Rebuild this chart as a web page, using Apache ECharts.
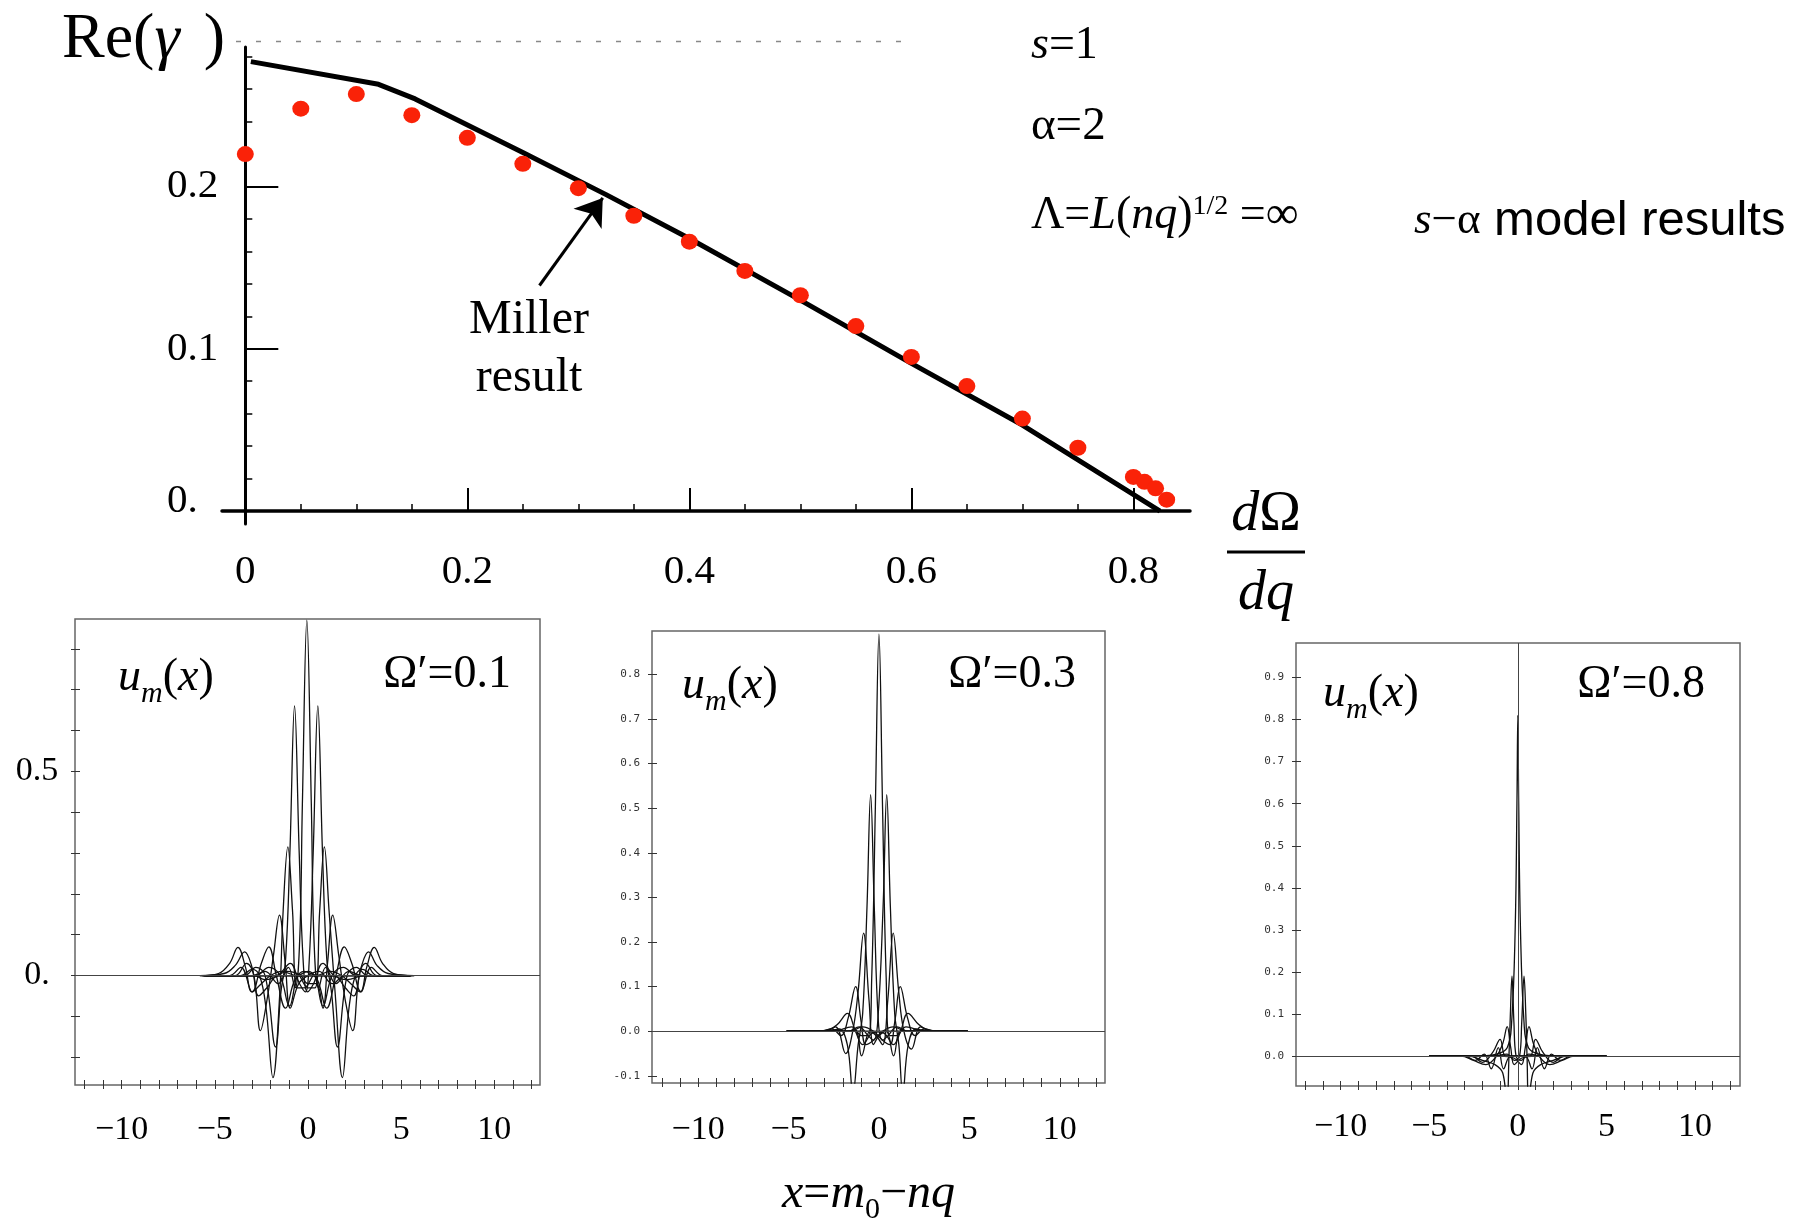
<!DOCTYPE html>
<html>
<head>
<meta charset="utf-8">
<script src="https://cdn.jsdelivr.net/npm/echarts@6/dist/echarts.min.js"></script>
<style>
  html, body { margin: 0; padding: 0; background: #fff; }
  #main { width: 1807px; height: 1223px; }
</style>
</head>
<body>
<div id="main"></div>
<script>
// ---- top plot: Re(gamma) vs dOmega/dq ----
var gammaX = [0, 0.05, 0.1, 0.15, 0.2, 0.25, 0.3, 0.35, 0.4, 0.45, 0.5, 0.55, 0.6, 0.65, 0.7, 0.75, 0.8, 0.81, 0.82, 0.83];
var gammaY = [0.220, 0.248, 0.257, 0.244, 0.230, 0.214, 0.199, 0.182, 0.166, 0.148, 0.133, 0.114, 0.095, 0.077, 0.057, 0.039, 0.021, 0.018, 0.014, 0.007];

var millerX = [0.005, 0.12, 0.153, 0.25, 0.325, 0.4, 0.5, 0.6, 0.7, 0.824];
var millerY = [0.277, 0.263, 0.254, 0.221, 0.195, 0.168, 0.130, 0.091, 0.053, 0.0];

var arrowFrom = [0.265, 0.139];
var arrowTo = [0.322, 0.193];

var topXTicks = [0, 0.2, 0.4, 0.6, 0.8];
var topXMinor = [0.05, 0.1, 0.15, 0.25, 0.3, 0.35, 0.45, 0.5, 0.55, 0.65, 0.7, 0.75];
var topYTicks = [0, 0.1, 0.2];
var topYMinor = [0.02, 0.04, 0.06, 0.08, 0.12, 0.14, 0.16, 0.18, 0.22, 0.24, 0.26, 0.28];

// ---- bottom panels: u_m(x) ----
var panelXTickVals = [-12, -11, -10, -9, -8, -7, -6, -5, -4, -3, -2, -1, 0, 1, 2, 3, 4, 5, 6, 7, 8, 9, 10, 11, 12];
var panelXLabels = [-10, -5, 0, 5, 10];

var omega01Curves = [
  [[-5.6,0],[-3.0,0],[-2.3,0.01],[-1.6,-0.02],[-1.05,0.02],[-0.7,-0.03],[-0.45,0.08],[-0.3,0.42],[-0.06,0.87],[0.18,0.42],[0.33,0.08],[0.58,-0.03],[0.95,0.02],[1.5,-0.02],[2.2,0.01],[2.9,0],[5.5,0]],
  [[-5.6,0],[-3.4,0],[-2.8,0.02],[-2.3,0],[-1.74,-0.175],[-1.45,-0.04],[-1.2,0.04],[-0.97,0.3],[-0.72,0.66],[-0.47,0.3],[-0.25,0.03],[-0.02,-0.04],[0.3,-0.02],[0.8,0.03],[1.4,0],[2.1,-0.01],[3.0,0],[5.5,0]],
  [[-5.6,0],[-2.9,0],[-2.3,-0.01],[-1.6,0],[-0.95,0.03],[-0.45,-0.02],[-0.14,-0.04],[0.06,0.03],[0.28,0.3],[0.53,0.66],[0.78,0.3],[1.01,0.04],[1.26,-0.04],[1.58,-0.175],[2.1,0],[2.6,0.02],[3.2,0],[5.5,0]],
  [[-5.6,0],[-3.6,0],[-3.0,0.015],[-2.6,0],[-2.25,-0.08],[-1.88,-0.25],[-1.52,-0.05],[-1.33,0.16],[-1.08,0.315],[-0.83,0.16],[-0.58,-0.03],[-0.2,-0.03],[0.3,0],[0.8,-0.075],[1.3,0],[1.9,0.02],[2.6,0],[5.5,0]],
  [[-5.6,0],[-2.8,0],[-2.1,0.02],[-1.5,0],[-0.99,-0.075],[-0.49,0],[0.01,-0.03],[0.38,-0.03],[0.63,0.16],[0.88,0.315],[1.13,0.16],[1.47,-0.05],[1.85,-0.25],[2.2,-0.08],[2.55,0],[2.95,0.015],[3.5,0],[5.5,0]],
  [[-5.7,0],[-3.9,0],[-3.3,0.03],[-2.9,0],[-2.55,-0.135],[-2.2,-0.06],[-1.85,0.05],[-1.53,0.148],[-1.22,0.03],[-0.95,-0.08],[-0.5,-0.02],[0,0],[0.6,0.01],[1.3,-0.02],[2.0,0],[5.5,0]],
  [[-5.5,0],[-1.8,0],[-1.1,0.01],[-0.4,0],[0,-0.02],[0.45,-0.02],[0.8,-0.08],[1.05,0.03],[1.33,0.148],[1.65,0.05],[2.0,-0.06],[2.4,-0.135],[2.75,0],[3.1,0.03],[3.7,0],[5.5,0]],
  [[-5.7,0],[-4.2,0],[-3.6,0.02],[-3.0,-0.04],[-2.5,0.03],[-2.1,0.07],[-1.7,0],[-1.2,-0.08],[-0.7,-0.01],[-0.2,0.01],[0.5,0],[5.5,0]],
  [[-5.5,0],[-0.6,0],[0,0.01],[0.5,-0.01],[1.0,-0.08],[1.5,0],[1.95,0.07],[2.35,0.03],[2.85,-0.04],[3.4,0.02],[4.0,0],[5.6,0]],
  [[-5.8,0],[-4.8,0.005],[-4.2,0.03],[-3.76,0.069],[-3.35,0.02],[-3.0,-0.04],[-2.5,-0.02],[-2.0,0],[-1.4,0.01],[-0.6,0],[5.5,0]],
  [[-5.5,0],[0.4,0],[1.2,0.01],[1.8,0],[2.3,-0.02],[2.8,-0.04],[3.15,0.02],[3.56,0.069],[4.0,0.03],[4.6,0.005],[5.7,0]],
  [[-5.8,0],[-4.5,0.005],[-3.9,0.025],[-3.4,0.058],[-3.0,0.02],[-2.65,-0.05],[-2.2,-0.03],[-1.6,0],[-0.8,0],[5.5,0]],
  [[-5.5,0],[0.6,0],[1.4,0],[2.0,-0.03],[2.45,-0.05],[2.85,0.02],[3.25,0.058],[3.7,0.025],[4.3,0.005],[5.7,0]]
];

var omega03Curves = [
  [[-5.1,0],[-2.5,0],[-1.5,0.01],[-0.95,-0.01],[-0.6,-0.01],[-0.4,0.12],[-0.2,0.5],[0,0.89],[0.2,0.5],[0.4,0.12],[0.6,-0.01],[0.95,-0.01],[1.5,0.01],[2.5,0],[4.9,0]],
  [[-5.1,0],[-2.8,0],[-2.2,0.005],[-1.75,-0.03],[-1.44,-0.14],[-1.15,-0.03],[-0.9,0.04],[-0.66,0.28],[-0.46,0.53],[-0.26,0.28],[-0.03,0.02],[0.2,-0.02],[0.5,-0.01],[1.0,0.01],[1.6,0],[4.9,0]],
  [[-5.1,0],[-1.7,0],[-1.1,0.01],[-0.6,-0.01],[-0.3,-0.02],[-0.07,0.02],[0.23,0.28],[0.43,0.53],[0.63,0.28],[0.87,0.04],[1.1,-0.03],[1.32,-0.14],[1.62,-0.03],[2.05,0.005],[2.7,0],[4.9,0]],
  [[-5.1,0],[-3.0,0],[-2.4,0.01],[-1.84,-0.05],[-1.45,0],[-1.15,0.09],[-0.85,0.22],[-0.55,0.07],[-0.3,-0.03],[0,-0.01],[0.4,0],[0.81,-0.055],[1.2,0],[1.8,0],[4.9,0]],
  [[-5.1,0],[-1.9,0],[-1.3,0],[-0.96,-0.055],[-0.5,0],[-0.15,-0.01],[0.2,-0.03],[0.49,0.07],[0.79,0.22],[1.09,0.09],[1.38,0],[1.8,-0.04],[2.3,0.01],[2.9,0],[4.9,0]],
  [[-5.1,0],[-3.3,0],[-2.6,0.005],[-2.1,-0.01],[-1.7,0.03],[-1.29,0.1],[-0.98,0.02],[-0.72,-0.03],[-0.3,-0.02],[0.2,0],[0.8,0.01],[1.5,0],[4.9,0]],
  [[-5.1,0],[-1.6,0],[-0.9,0.01],[-0.3,0],[0.2,-0.02],[0.6,-0.03],[0.87,0.02],[1.18,0.1],[1.58,0.03],[2.0,-0.01],[2.5,0.005],[3.2,0],[4.9,0]],
  [[-5.1,0],[-3.4,0],[-2.7,0.005],[-2.3,0.015],[-1.74,0.04],[-1.3,0],[-0.9,-0.03],[-0.4,-0.005],[0.2,0],[4.9,0]],
  [[-5.1,0],[-0.3,0],[0.3,-0.005],[0.8,-0.03],[1.2,0],[1.6,0.04],[2.2,0.015],[2.6,0.005],[3.3,0],[4.9,0]]
];

var omega08Curves = [
  [[-5.0,0],[-2.5,0],[-1.2,0.005],[-0.6,0.02],[-0.35,0.08],[-0.15,0.3],[-0.05,0.6],[0,0.81],[0.05,0.6],[0.15,0.3],[0.35,0.08],[0.6,0.02],[1.2,0.005],[2.5,0],[5.0,0]],
  [[-5.0,0],[-2.8,0],[-2.0,-0.01],[-1.3,-0.02],[-0.85,-0.04],[-0.62,-0.12],[-0.5,0],[-0.42,0.1],[-0.33,0.19],[-0.22,0.08],[-0.1,0],[0.2,-0.01],[0.6,0.005],[1.5,0],[5.0,0]],
  [[-5.0,0],[-1.5,0],[-0.6,0.005],[-0.2,-0.01],[0.1,0],[0.22,0.08],[0.35,0.19],[0.45,0.1],[0.52,0],[0.62,-0.12],[0.85,-0.04],[1.3,-0.02],[2.0,-0.01],[2.8,0],[5.0,0]],
  [[-5.0,0],[-3.2,0],[-2.5,-0.01],[-1.8,-0.02],[-1.2,0],[-0.85,0.03],[-0.6,0.07],[-0.4,0.02],[-0.2,-0.02],[0.2,-0.005],[1.0,0],[5.0,0]],
  [[-5.0,0],[-1.0,0],[-0.2,-0.005],[0.2,-0.02],[0.42,0.02],[0.63,0.07],[0.88,0.03],[1.2,0],[1.8,-0.02],[2.5,-0.01],[3.2,0],[5.0,0]],
  [[-5.0,0],[-3.0,0],[-2.4,-0.01],[-1.9,0.005],[-1.5,-0.03],[-1.1,0.02],[-0.8,-0.03],[-0.4,0],[0.5,0],[5.0,0]],
  [[-5.0,0],[-0.5,0],[0.4,0],[0.8,-0.03],[1.1,0.02],[1.5,-0.03],[1.9,0.005],[2.4,-0.01],[3.0,0],[5.0,0]],
  [[-5.0,0],[-2.6,0],[-2.0,-0.015],[-1.4,0.01],[-1.0,0.04],[-0.7,0],[-0.3,0],[0.4,0],[5.0,0]],
  [[-5.0,0],[-0.4,0],[0.3,0],[0.7,0],[1.0,0.04],[1.4,0.01],[2.0,-0.015],[2.6,0],[5.0,0]]
];

var SERIF = "'Liberation Serif', 'Times New Roman', serif";
var SANS = "'Liberation Sans', Arial, sans-serif";

var panels = [
  { grid: { left: 75, top: 619, width: 465, height: 466 }, xMin: -12.5, xMax: 12.45, yMin: -0.268, yMax: 0.873,
    yTicks: [-0.2, -0.1, 0, 0.1, 0.2, 0.3, 0.4, 0.5, 0.6, 0.7, 0.8], yLabels: [0, 0.5], xLabelMargin: 28,
    curves: omega01Curves, zeroV: false },
  { grid: { left: 652, top: 631, width: 453, height: 452 }, xMin: -12.55, xMax: 12.5, yMin: -0.116, yMax: 0.897,
    yTicks: [-0.1, 0, 0.1, 0.2, 0.3, 0.4, 0.5, 0.6, 0.7, 0.8], yLabels: [-0.1, 0, 0.1, 0.2, 0.3, 0.4, 0.5, 0.6, 0.7, 0.8], xLabelMargin: 30,
    curves: omega03Curves, zeroV: false },
  { grid: { left: 1296, top: 643, width: 444, height: 443 }, xMin: -12.52, xMax: 12.54, yMin: -0.071, yMax: 0.982,
    yTicks: [0, 0.1, 0.2, 0.3, 0.4, 0.5, 0.6, 0.7, 0.8, 0.9], yLabels: [0, 0.1, 0.2, 0.3, 0.4, 0.5, 0.6, 0.7, 0.8, 0.9], xLabelMargin: 24,
    curves: omega08Curves, zeroV: true }
];

var grids = [{ left: 222, top: 47, width: 968, height: 477, outerBoundsMode: 'none', containLabel: false }];
var xAxes = [
  { gridIndex: 0, type: 'value', min: -0.021, max: 0.851, position: 'bottom',
    axisLine: { onZero: true, lineStyle: { color: '#000', width: 3.5 } },
    axisTick: { customValues: [0.2, 0.4, 0.6, 0.8], inside: true, length: 23, lineStyle: { color: '#000', width: 2 } },
    axisLabel: { customValues: topXTicks, margin: 28, fontFamily: SERIF, fontSize: 41, color: '#000',
      formatter: function (v) { return v === 0 ? '0' : v.toFixed(1); } },
    splitLine: { show: false } },
  { gridIndex: 0, type: 'value', min: -0.021, max: 0.851, position: 'bottom',
    axisLine: { show: true, onZero: true, lineStyle: { opacity: 0 } },
    axisTick: { customValues: topXMinor, inside: true, length: 7, lineStyle: { color: '#000', width: 1.5 } },
    axisLabel: { show: false }, splitLine: { show: false } }
];
var yAxes = [
  { gridIndex: 0, type: 'value', min: -0.008, max: 0.286, position: 'left',
    axisLine: { onZero: true, lineStyle: { color: '#000', width: 3 } },
    axisTick: { customValues: [0.1, 0.2], inside: true, length: 33, lineStyle: { color: '#000', width: 2 } },
    axisLabel: { customValues: topYTicks, align: 'left', margin: 55, fontFamily: SERIF, fontSize: 41, color: '#000',
      formatter: function (v) { return v === 0 ? '{z|0.}' : v.toFixed(1); },
      rich: { z: { fontFamily: SERIF, fontSize: 41, color: '#000', padding: [0, 0, 20, 0] } } },
    splitLine: { show: false } },
  { gridIndex: 0, type: 'value', min: -0.008, max: 0.286, position: 'left',
    axisLine: { show: true, onZero: true, lineStyle: { opacity: 0 } },
    axisTick: { customValues: topYMinor, inside: true, length: 7, lineStyle: { color: '#000', width: 1.5 } },
    axisLabel: { show: false }, splitLine: { show: false } }
];

var series = [
  { type: 'line', xAxisIndex: 0, yAxisIndex: 0, data: millerX.map(function (x, i) { return [x, millerY[i]]; }),
    showSymbol: false, symbol: 'none', lineStyle: { color: '#000', width: 5 }, z: 3, silent: true,
    markLine: { silent: true, symbol: ['none', 'arrow'], symbolSize: 26, label: { show: false },
      lineStyle: { color: '#000', width: 3, type: 'solid' },
      data: [[{ coord: arrowFrom }, { coord: arrowTo }]] } },
  { type: 'scatter', xAxisIndex: 0, yAxisIndex: 0, data: gammaX.map(function (x, i) { return [x, gammaY[i]]; }),
    symbol: 'circle', symbolSize: [17, 16], itemStyle: { color: '#fa2208', opacity: 1 }, z: 4, silent: true }
];

panels.forEach(function (p, k) {
  var gi = k + 1;
  var ai = 2 + 2 * k;
  grids.push(Object.assign({ show: true, borderColor: '#666', borderWidth: 1.5, backgroundColor: 'transparent',
    outerBoundsMode: 'none', containLabel: false }, p.grid));
  var isFirst = k === 0;
  xAxes.push({ gridIndex: gi, type: 'value', min: p.xMin, max: p.xMax, position: 'bottom',
    axisLine: { show: false, onZero: false },
    axisTick: { customValues: panelXTickVals, inside: true, length: 5, lineStyle: { color: '#333', width: 1 } },
    axisLabel: { customValues: panelXLabels, margin: p.xLabelMargin, fontFamily: SERIF, fontSize: 34, color: '#000',
      formatter: function (v) { return String(v).replace('-', '\u2212'); } },
    splitLine: { show: false } });
  xAxes.push({ gridIndex: gi, type: 'value', min: p.xMin, max: p.xMax, position: 'bottom',
    axisLine: { show: false, onZero: false },
    axisTick: { customValues: panelXTickVals, inside: false, length: 4, lineStyle: { color: '#333', width: 1 } },
    axisLabel: { show: false }, splitLine: { show: false } });
  yAxes.push({ gridIndex: gi, type: 'value', min: p.yMin, max: p.yMax, position: 'left',
    axisLine: { show: false, onZero: false },
    axisTick: { customValues: p.yTicks, inside: true, length: 5, lineStyle: { color: '#333', width: 1 } },
    axisLabel: isFirst
      ? { customValues: p.yLabels, align: 'center', margin: 38, fontFamily: SERIF, fontSize: 34, color: '#000',
          formatter: function (v) { return v === 0 ? '0.' : String(v); } }
      : { customValues: p.yLabels, margin: 12, fontFamily: "'DejaVu Sans Mono', monospace", fontSize: 11, color: '#333',
          formatter: function (v) { return v.toFixed(1); } },
    splitLine: { show: false } });
  yAxes.push({ gridIndex: gi, type: 'value', min: p.yMin, max: p.yMax, position: 'left',
    axisLine: { show: false, onZero: false },
    axisTick: { customValues: p.yTicks, inside: false, length: 4, lineStyle: { color: '#333', width: 1 } },
    axisLabel: { show: false }, splitLine: { show: false } });

  var guide = [{ yAxis: 0 }];
  if (p.zeroV) guide.push({ xAxis: 0 });
  p.curves.forEach(function (pts, i) {
    var s = { type: 'line', xAxisIndex: ai, yAxisIndex: ai, data: pts, smooth: 0.4, showSymbol: false, symbol: 'none',
      clip: true, silent: true, lineStyle: { color: '#111', width: 1.3 }, z: 3 };
    if (i === 0) {
      s.markLine = { silent: true, symbol: 'none', label: { show: false }, animation: false,
        lineStyle: { color: '#444', width: 1, type: 'solid' }, data: guide };
    }
    series.push(s);
  });
});

function label(x, y, text, rich, align) {
  return { type: 'text', x: x, y: y, silent: true,
    style: { text: text, rich: rich, fill: '#000', align: align || 'left', verticalAlign: 'middle',
      textAlign: align || 'left', textVerticalAlign: 'middle' } };
}
function tok(size, italic, family, extra) {
  return Object.assign({ fontSize: size, fontStyle: italic ? 'italic' : 'normal', fontFamily: family || SERIF, color: '#000' }, extra || {});
}
var umRich = { i: tok(46, true, null, { lineHeight: 62 }), n: tok(46, false, null, { lineHeight: 62 }),
  sub: tok(30, true, null, { lineHeight: 30, verticalAlign: 'bottom' }) };
var omRich = { n: tok(46, false) };

var graphics = [
  { type: 'line', silent: true, shape: { x1: 236, y1: 41.5, x2: 904, y2: 41.5 },
    style: { stroke: '#888', lineWidth: 1.5, lineDash: [5, 15] } },
  label(62, 40, '{n|Re(}{i|\u03b3}{p|)}', { n: tok(64, false), i: tok(64, true), p: tok(64, false, null, { padding: [0, 0, 0, 24] }) }),
  label(1031, 46, '{i|s}{n|=1}', { n: tok(46, false), i: tok(46, true) }),
  label(1031, 127, '{n|\u03b1=2}', { n: tok(47, false) }),
  label(1031, 216, '{n|\u039b=}{i|L}{n|(}{i|nq}{n|)}{sup|1/2}{n| =\u221e}',
    { n: tok(46, false, null, { lineHeight: 46 }), i: tok(46, true, null, { lineHeight: 46 }),
      sup: tok(28, false, null, { lineHeight: 28, verticalAlign: 'top' }) }),
  label(1414, 221, '{i|s}{n|\u2212\u03b1}{s| model results}', { n: tok(45, false), i: tok(45, true), s: tok(49, false, SANS) }),
  label(529, 320, '{n|Miller}', { n: tok(48, false) }, 'center'),
  label(529, 378, '{n|result}', { n: tok(48, false) }, 'center'),
  label(1266, 515, '{i|d}{n|\u03a9}', { n: tok(56, false), i: tok(56, true) }, 'center'),
  { type: 'line', silent: true, shape: { x1: 1227, y1: 552, x2: 1305, y2: 552 }, style: { stroke: '#000', lineWidth: 3 } },
  label(1266, 594, '{i|dq}', { i: tok(56, true) }, 'center'),
  label(118, 678, '{i|u}{sub|m}{n|(}{i|x}{n|)}', umRich),
  label(682, 686, '{i|u}{sub|m}{n|(}{i|x}{n|)}', umRich),
  label(1323, 694, '{i|u}{sub|m}{n|(}{i|x}{n|)}', umRich),
  label(511, 675, '{n|\u03a9\u2032=0.1}', omRich, 'right'),
  label(1076, 675, '{n|\u03a9\u2032=0.3}', omRich, 'right'),
  label(1705, 685, '{n|\u03a9\u2032=0.8}', omRich, 'right'),
  label(782, 1194, '{i|x}{n|=}{i|m}{sub|0}{n|\u2212}{i|nq}',
    { i: tok(48, true, null, { lineHeight: 62 }), n: tok(48, false, null, { lineHeight: 62 }),
      sub: tok(30, false, null, { lineHeight: 30, verticalAlign: 'bottom' }) })
];

var chart = echarts.init(document.getElementById('main'), null, { renderer: 'canvas' });
chart.setOption({
  backgroundColor: '#fff',
  animation: false,
  grid: grids,
  xAxis: xAxes,
  yAxis: yAxes,
  series: series,
  graphic: graphics
});
</script>
</body>
</html>
